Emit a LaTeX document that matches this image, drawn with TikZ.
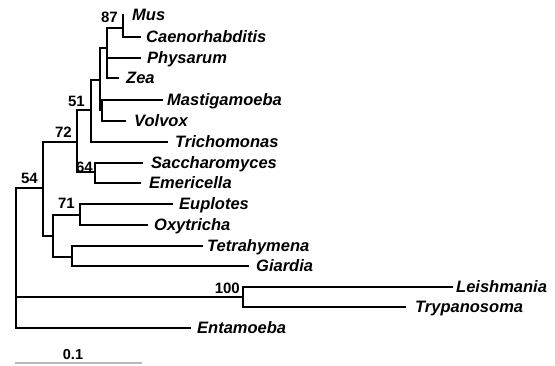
\documentclass[tikz,border=0pt]{standalone}
\usepackage{fontspec}
\setmainfont{Liberation Sans}
\begin{document}
\begin{tikzpicture}[x=1pt,y=-1pt,
  br/.style={line width=1.7pt, line join=miter, line cap=rect},
  leaf/.style={anchor=west, inner sep=0pt, text height=11.8pt, text depth=0pt,
    font=\fontsize{16.5}{18}\selectfont\bfseries\itshape},
  boot/.style={anchor=east, inner sep=0pt, text height=10.7pt, text depth=0pt,
    font=\fontsize{15}{17}\selectfont\bfseries},
  scalebar/.style={gray!55, line width=1.3pt}]
\useasboundingbox (0,0) rectangle (555,365);
% internal nodes
\coordinate (root) at (16,188);
\coordinate (n54) at (43,188);
\coordinate (n72) at (77,142);
\coordinate (n51) at (91,110);
\coordinate (nC) at (100,80);
\coordinate (nA) at (107,48);
\coordinate (n87) at (123,28);
\coordinate (nB) at (102,110);
\coordinate (n64) at (95,172);
\coordinate (nD) at (53,236);
\coordinate (n71) at (80,215);
\coordinate (nT) at (72,257);
\coordinate (n100) at (243,297);
% tips
\coordinate (tMus) at (123,15);
\coordinate (tCae) at (140,37);
\coordinate (tPhy) at (140,58);
\coordinate (tZea) at (118,78);
\coordinate (tMas) at (162,100);
\coordinate (tVol) at (125,121);
\coordinate (tTri) at (167,142);
\coordinate (tSac) at (142,163);
\coordinate (tEme) at (140,183);
\coordinate (tEup) at (172,204);
\coordinate (tOxy) at (147,225);
\coordinate (tTet) at (202,246);
\coordinate (tGia) at (248,266);
\coordinate (tLei) at (452,287);
\coordinate (tTry) at (405,307);
\coordinate (tEnt) at (190,328);
% branches
\draw[br] (root) |- (n54) (root) |- (n100) (root) |- (tEnt);
\draw[br] (n54) |- (n72) (n54) |- (nD);
\draw[br] (n72) |- (n51) (n72) |- (n64);
\draw[br] (n51) |- (nC) (n51) |- (tTri);
\draw[br] (nC) |- (nA) (nC) |- (nB);
\draw[br] (nA) |- (n87) (nA) |- (tPhy) (nA) |- (tZea);
\draw[br] (n87) |- (tMus) (n87) |- (tCae);
\draw[br] (nB) |- (tMas) (nB) |- (tVol);
\draw[br] (n64) |- (tSac) (n64) |- (tEme);
\draw[br] (nD) |- (n71) (nD) |- (nT);
\draw[br] (n71) |- (tEup) (n71) |- (tOxy);
\draw[br] (nT) |- (tTet) (nT) |- (tGia);
\draw[br] (n100) |- (tLei) (n100) |- (tTry);
% leaf labels
\node[leaf] (lMus) at (132,15) {Mus};
\node[leaf] (lCae) at (146,37) {Caenorhabditis};
\node[leaf] (lPhy) at (147,58) {Physarum};
\node[leaf] (lZea) at (126,78) {Zea};
\node[leaf] (lMas) at (167,100) {Mastigamoeba};
\node[leaf] (lVol) at (134,121) {Volvox};
\node[leaf] (lTri) at (175,142) {Trichomonas};
\node[leaf] (lSac) at (151,163) {Saccharomyces};
\node[leaf] (lEme) at (149,183) {Emericella};
\node[leaf] (lEup) at (179,204) {Euplotes};
\node[leaf] (lOxy) at (154,225) {Oxytricha};
\node[leaf] (lTet) at (207,246) {Tetrahymena};
\node[leaf] (lGia) at (256,266) {Giardia};
\node[leaf] (lLei) at (456,287) {Leishmania};
\node[leaf] (lTry) at (415,307) {Trypanosoma};
\node[leaf] (lEnt) at (197,328) {Entamoeba};
% bootstrap values
\node[boot] (b87) at (118,17) {87};
\node[boot] (b51) at (85,101) {51};
\node[boot] (b72) at (72,132) {72};
\node[boot] (b64) at (93,167) {64};
\node[boot] (b54) at (38,178) {54};
\node[boot] (b71) at (75,203) {71};
\node[boot] (b100) at (240,288) {100};
% scale bar
\coordinate (s0) at (15,363);
\coordinate (s1) at (142,363);
\draw[scalebar] (s0) -- (s1);
\node[inner sep=0pt, font=\fontsize{14.5}{16}\selectfont\bfseries] (sl) at (73,355) {0.1};
\end{tikzpicture}
\end{document}
